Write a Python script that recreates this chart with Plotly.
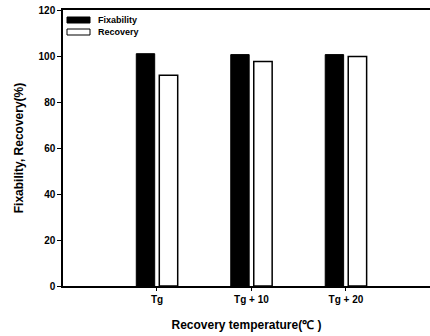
import plotly.graph_objects as go

# Recovery temperature conditions and measured ratios (%)
categories = ["Tg", "Tg + 10", "Tg + 20"]
fixability = [101.0, 100.6, 100.6]
recovery = [91.6, 97.6, 99.8]

series_names = ["Fixability", "Recovery"]
y_ticks = [0, 20, 40, 60, 80, 100, 120]

W, H = 430, 336
ML, MR, MT, MB = 63, 0, 10, 50
PW, PH = W - ML - MR, H - MT - MB

FONT = "Liberation Sans"

fig = go.Figure()
fig.add_trace(go.Bar(
    x=categories, y=fixability, name=series_names[0],
    marker=dict(color="black", line=dict(color="black", width=1)),
    showlegend=False,
))
fig.add_trace(go.Bar(
    x=categories, y=recovery, name=series_names[1],
    marker=dict(color="white", line=dict(color="black", width=1.5)),
    showlegend=False,
))


def px_x(px):
    return (px - ML) / PW


def px_y(py):
    return (MT + PH - py) / PH


# hand-drawn legend: long flat swatches with labels to their right
legend_rows = [
    (series_names[0], "black", 17, 23),
    (series_names[1], "white", 29, 35),
]
shapes = []
annotations = []
for name, fill, y0, y1 in legend_rows:
    shapes.append(dict(
        type="rect", xref="paper", yref="paper",
        x0=px_x(67), x1=px_x(90), y0=px_y(y1), y1=px_y(y0),
        fillcolor=fill, line=dict(color="black", width=1),
    ))
    annotations.append(dict(
        xref="paper", yref="paper", x=px_x(96), y=px_y((y0 + y1) / 2),
        text=name, showarrow=False, xanchor="left", yanchor="middle",
        font=dict(family=FONT, size=9, color="black", weight="bold"),
    ))

fig.update_layout(
    width=W, height=H,
    margin=dict(l=ML, r=MR, t=MT, b=MB, pad=0),
    paper_bgcolor="white", plot_bgcolor="white",
    barmode="group", bargap=0.513, bargroupgap=0.2,
    shapes=shapes, annotations=annotations,
    font=dict(family=FONT, color="black"),
)
fig.update_xaxes(
    range=[-0.995, 2.89],
    showline=True, linecolor="black", linewidth=1.5, mirror=True,
    ticks="outside", ticklen=3, tickcolor="black",
    showgrid=False, zeroline=False,
    tickfont=dict(family=FONT, size=10, color="black", weight="bold"),
    title=dict(text="Recovery temperature(℃ )", standoff=17,
               font=dict(family=FONT, size=12, color="black", weight="bold")),
)
fig.update_yaxes(
    range=[0, 120], tickvals=y_ticks,
    showline=True, linecolor="black", linewidth=1.5,
    ticks="outside", ticklen=4, tickcolor="black",
    showgrid=False, zeroline=False,
    tickfont=dict(family=FONT, size=10, color="black", weight="bold"),
    title=dict(text="Fixability, Recovery(%)", standoff=12,
               font=dict(family=FONT, size=12, color="black", weight="bold")),
)

fig.write_html("out.html")
